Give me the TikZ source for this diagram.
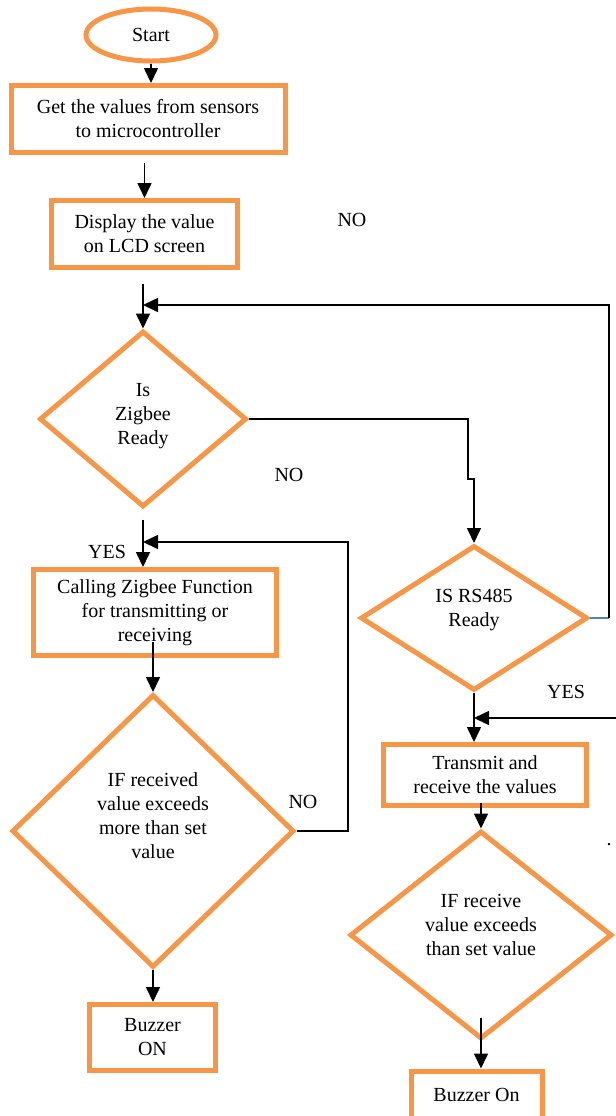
\documentclass[tikz,border=0pt]{standalone}
\usepackage{fontspec}
\setmainfont{Liberation Serif}
\usepackage{xcolor}
\usepackage{tikz}
\usetikzlibrary{arrows.meta,shapes,positioning,calc}
\definecolor{boxorange}{HTML}{F79646}
\definecolor{linkblue}{HTML}{4F81BD}
\tikzset{
    procbox/.style = {draw = boxorange, line width = 2.5pt, rectangle, inner sep = 0pt, align = center},
    decbox/.style = {draw = boxorange, line width = 2.5pt, diamond, inner sep = 0pt},
    termbox/.style = {draw = boxorange, line width = 2.5pt, ellipse, inner sep = 0pt},
    flow/.style = {line width = .8pt, -{Triangle[length = 7.5pt, width = 7pt]}},
    link/.style = {line width = .8pt}
}

\begin{document}
\begin{tikzpicture}[x = .5pt, y = -.5pt]
    \useasboundingbox (0,0) rectangle (616,1116);
    % Left column
    \node[termbox, minimum width = 65pt, minimum height = 26pt] (start) at (151,35) {Start};
    \node[procbox, minimum width = 137pt, minimum height = 33.5pt] (get) at (148,119) {Get the values from sensors\\to microcontroller};
    \node[procbox, minimum width = 93pt, minimum height = 33.5pt] (disp) at (144.5,234) {Display the value\\on LCD screen};
    \node[decbox, minimum width = 103.5pt, minimum height = 88pt] (zig) at (143,419) {};
    \node[align = center] (zigtxt) at (143,416) {Is\\Zigbee\\Ready};
    \node[procbox, minimum width = 121.5pt, minimum height = 43pt] (call) at (155,612.5) {Calling Zigbee Function\\for transmitting or\\receiving};
    \node[decbox, minimum width = 141pt, minimum height = 136.5pt] (if1) at (153,831) {};
    \node[align = center] (if1txt) at (153,816) {IF received\\value exceeds\\more than set\\value};
    \node[procbox, minimum width = 63pt, minimum height = 33pt] (buz1) at (152.5,1037.5) {Buzzer\\ON};
    % Right column
    \node[decbox, minimum width = 113.5pt, minimum height = 72.5pt] (rs) at (474,618) {};
    \node[align = center] (rstxt) at (474,610) {IS RS485\\Ready};
    \node[procbox, minimum width = 101.5pt, minimum height = 30.5pt] (tx) at (485,775) {Transmit and\\receive the values};
    \node[decbox, minimum width = 131pt, minimum height = 104pt] (if2) at (481,935) {};
    \node[align = center] (if2txt) at (481,925) {IF receive\\value exceeds\\than set value};
    \node[procbox, minimum width = 65.5pt, minimum height = 24pt] (buz2) at (476.5,1095) {Buzzer On};
    % Branch labels
    \node (no1) at (352,220) {NO};
    \node (no2) at (289,475) {NO};
    \node (yes1) at (107,552) {YES};
    \node (no3) at (303,802) {NO};
    \node (yes2) at (566,692) {YES};
    \node (stray) at (609,845) {.};
    % Corner points
    \coordinate (zigin) at (143,305);
    \coordinate (rsout) at (609,618);
    \coordinate (jog) at (468,479);
    \coordinate (callin) at (143,542);
    \coordinate (if1out) at (348,831);
    \coordinate (txside) at (616,718);
    \coordinate (txin) at (474,718);
    % Main flow
    \draw[flow] (start.south) -- (start.south |- get.north);
    \draw[flow] ($(get.south -| disp.north) + (0,8)$) -- (disp.north);
    \draw[flow] ($(disp.south -| zig.north) + (0,14)$) -- (zig.north);
    \draw[flow] ($(zig.south) + (0,10)$) -- (zig.south |- call.north);
    \draw[flow] ($(call.south -| if1.north) + (0,-16)$) -- (if1.north);
    \draw[flow] (if1.south) -- (if1.south |- buz1.north);
    \draw[flow] (zig.east) -| (jog) -- (jog -| rs.north) -- (rs.north);
    \draw[flow] (rs.south) -- (rs.south |- tx.north);
    \draw[flow] ($(tx.south -| if2.north) + (0,-5)$) -- (if2.north);
    \draw[flow] ($(if2.south) + (0,-24)$) -- (if2.south |- buz2.north);
    % Loops back
    \draw[link, linkblue] (rs.east) -- (rsout);
    \draw[flow] (rsout) |- (zigin);
    \draw[flow] (if1.east) -- (if1out) |- (callin);
    \draw[flow] (txside) -- (txin);
\end{tikzpicture}
\end{document}
